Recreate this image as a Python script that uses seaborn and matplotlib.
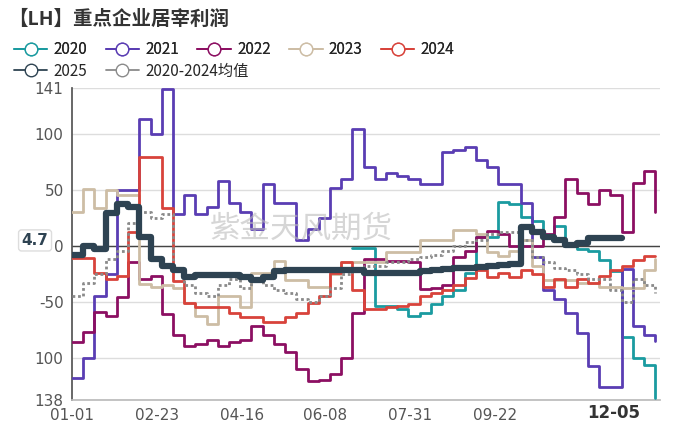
import numpy as np
import pandas as pd
import matplotlib
matplotlib.use("Agg")
import matplotlib.pyplot as plt
import seaborn as sns
from matplotlib.lines import Line2D

days = list(range(0, 365, 7))  # 53 weekly points, day-of-year

y2020 = [np.nan]*25 + [-2, -2, -54, -54, -57, -63, -60, -52, -45, -40, -24, 8, 8, 39, 37, 26, 22, 8, 18, 1,
                       -3, -5, -13, -23, -82, -100, -107, -136]
y2021 = [-118, -100, -45, -25, 50, 50, 113, 100, 140, 28, 45, 28, 35, 58, 38, 30, 15, 55, 38, 38, 5, 15, 25, 52,
         60, 104, 70, 60, 65, 62, 60, 55, 55, 84, 86, 88, 77, 70, 55, 55, 38, -10, -40, -48, -60, -78, -108, -126,
         -126, -21, -72, -80, -85]
y2022 = [-86, -77, -59, -63, -46, -15, -30, -27, -61, -80, -90, -88, -84, -90, -86, -84, -72, -80, -88, -95, -110,
         -121, -120, -115, -100, -60, -12, -12, -14, -14, -15, -39, -38, -35, -10, -5, 8, 13, 10, 0, 0, 0, 10, 26,
         60, 47, 37, 50, 45, 12, 56, 67, 30]
y2023 = [30, 51, 34, 50, 45, 45, -34, -37, -35, -38, -51, -63, -70, -45, -45, -55, -24, -24, -14, -31, -31, -37,
         -37, -25, -15, -15, -15, -15, -6, -6, -6, 5, 5, 5, 14, 14, 10, -6, -9, -5, 5, -18, -31, -31, -31, -33, -33,
         -37, -37, -38, -38, -22, -12]
y2024 = [-11, -11, -24, -30, -27, 12, 79, 79, 34, -32, -51, -55, -55, -55, -60, -64, -64, -68, -68, -64, -60, -51,
         -45, -24, -15, -40, -57, -57, -55, -54, -52, -45, -42, -40, -35, -29, -22, -28, -24, -28, -22, -25, -37,
         -30, -37, -30, -33, -27, -22, -18, -13, -9, -9]
y2025 = [-8, 0, -3, 29, 37, 35, 8, -12, -18, -22, -28, -26, -26, -26, -26, -28, -31, -28, -23, -22, -22, -22, -22,
         -22, -22, -22, -24, -24, -24, -24, -24, -23, -22, -21, -20, -20, -19, -18, -17, -16, 17, 12, 8, 5, 1, 2,
         7, 7, 7, 7] + [np.nan]*3
yavg = [-45, -33, -25, -12, -5, 20, 30, 25, 28, -20, -35, -42, -45, -35, -30, -38, -32, -35, -40, -42, -48, -50,
        -45, -38, -25, -20, -18, -18, -15, -15, -12, -10, -8, -5, 0, 3, 5, 10, 12, 12, 5, -10, -15, -20, -22, -25,
        -30, -30, -40, -50, -30, -35, -42]

series = ["2020", "2021", "2022", "2023", "2024", "2025", "2020-2024均值"]
values = [y2020, y2021, y2022, y2023, y2024, y2025, yavg]
colors = ["#1a9ba0", "#5a3db3", "#8c0f62", "#cdbda5", "#d8433b", "#2e4352", "#8a8a8a"]

xtick_pos = [0, 53, 106, 158, 211, 264]
xtick_lab = ["01-01", "02-23", "04-16", "06-08", "07-31", "09-22"]
ytick_pos = [141, 100, 50, 0, -50, -100, -138]
ytick_lab = ["141", "100", "50", "0", "-50", "100", "138"]

df = pd.concat([pd.DataFrame({"day": days, "value": v, "series": s}) for s, v in zip(series, values)])

sns.set_theme(style="white")
plt.rcParams['font.family'] = ['Noto Sans CJK SC', 'DejaVu Sans']

fig = plt.figure(figsize=(7, 4.24), dpi=100)
ax = fig.add_axes([72/700, 1-400/424, (660-72)/700, (400-88)/424])

for s, c in zip(series, colors):
    sub = df[df.series == s]
    lw = 4.5 if s == "2025" else 2.0
    ls = (0, (1, 1)) if s.startswith("2020-") else "-"
    sns.lineplot(data=sub, x="day", y="value", ax=ax, color=c, lw=lw, ls=ls,
                 drawstyle="steps-post", legend=False, zorder=5 if s == "2025" else 3)

ax.set_xlim(0, 367)
ax.set_ylim(-138, 141)
ax.set_xticks(xtick_pos)
ax.set_xticklabels(xtick_lab, fontsize=11, color="#555555", family=['DejaVu Sans'])
ax.set_yticks(ytick_pos)
ax.set_yticklabels(ytick_lab, fontsize=11, color="#555555", family=['DejaVu Sans'])
ax.set_xlabel("")
ax.set_ylabel("")
ax.grid(axis="y", color="#dddddd", lw=1)
ax.axhline(0, color="#444444", lw=1, zorder=2)
for sp in ["top", "right"]:
    ax.spines[sp].set_visible(False)
ax.spines["left"].set_color("#555555")
ax.spines["bottom"].set_color("#bbbbbb")
ax.tick_params(axis="both", length=4, color="#999999", pad=2)

ax.text(-0.04, 4.7, "4.7", transform=ax.get_yaxis_transform(), ha="right", va="center",
        fontsize=11, fontweight="bold", color="#2e4352", family=['DejaVu Sans'],
        bbox=dict(boxstyle="round,pad=0.2", fc="white", ec="#dddddd"))
ax.text(338, -0.012, "12-05", transform=ax.get_xaxis_transform(), ha="center", va="top",
        fontsize=12, fontweight="bold", color="#333333", family=['DejaVu Sans'])

fig.text(0.43, 0.46, "紫金天风期货", fontsize=22, color="#bbbbbb", alpha=0.6, ha="center", va="center")

fig.text(0.012, 0.955, "【LH】重点企业居宰利润", fontsize=14, fontweight="bold", color="#333333", va="center")

handles = [Line2D([], [], color=c, lw=1.3, marker="o", markersize=9, mfc="white", mec=c) for c in colors]
leg1 = fig.legend(handles[:5], series[:5], loc="upper left", bbox_to_anchor=(0.0, 0.935), ncol=5,
                  frameon=False, fontsize=11, handlelength=2.2, columnspacing=1.2, handletextpad=0.4)
fig.add_artist(leg1)
fig.legend(handles[5:], series[5:], loc="upper left", bbox_to_anchor=(0.0, 0.885), ncol=2,
           frameon=False, fontsize=11, handlelength=2.2, columnspacing=1.2, handletextpad=0.4)

fig.savefig("out.png", dpi=100)
